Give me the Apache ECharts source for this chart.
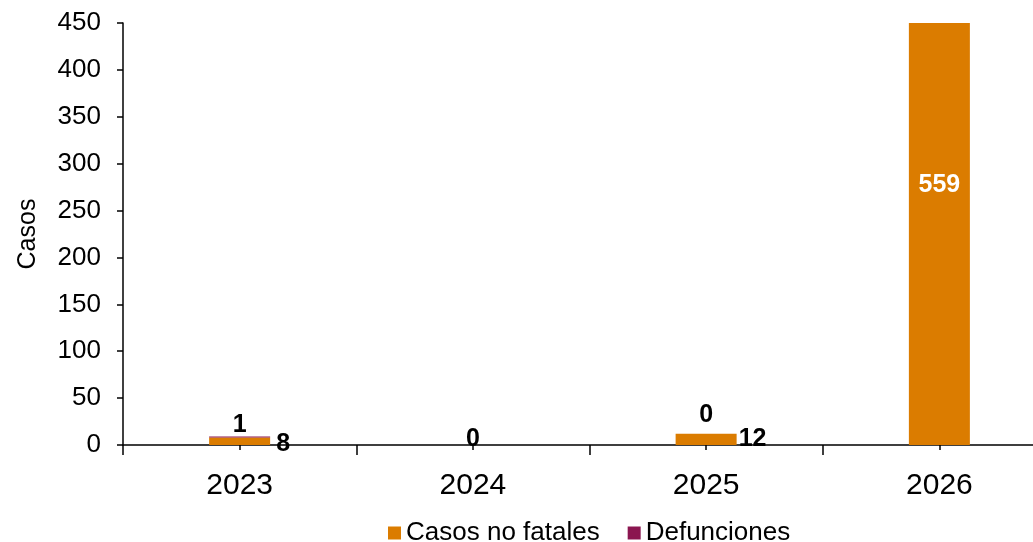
<!DOCTYPE html>
<html>
<head>
<meta charset="utf-8">
<script src="https://cdn.jsdelivr.net/npm/echarts@6/dist/echarts.min.js"></script>
<style>html,body{margin:0;padding:0;background:#fff;overflow:hidden}#c{width:1033px;height:542px}</style>
</head>
<body>
<div id="c"></div>
<script>
const years = ['2023', '2024', '2025', '2026'];
const casosNoFatales = [8, 0, 12, 559];
const defunciones = [1, 0, 0, 0];
const yTicks = { min: 0, max: 450, interval: 50 };

const FONT = 'Liberation Sans, Arial, sans-serif';
const chart = echarts.init(document.getElementById('c'));

const casosData = casosNoFatales.map((v, i) => {
  if (i === 1) return { value: v, label: { show: false } };
  if (v > yTicks.max) {
    return { value: v, label: { show: true, position: 'inside', color: '#fff', offset: [0, -49] } };
  }
  return { value: v, label: { show: true, position: 'right', distance: i === 0 ? 6 : 2, offset: i === 0 ? [0, 3] : [0, 0] } };
});
const defData = defunciones.map((v, i) => {
  if (i === 3) return { value: v, label: { show: false } };
  const dist = [-1, -7, 6, 0][i];
  return { value: v, label: { show: true, position: 'top', distance: dist } };
});

chart.setOption({
  animation: false,
  backgroundColor: '#fff',
  textStyle: { fontFamily: FONT },
  grid: { left: 123, width: 933, top: 23, bottom: 97, containLabel: false, outerBoundsMode: 'none' },
  legend: {
    left: 388, top: 520, padding: 0, itemWidth: 13, itemHeight: 13, itemGap: 28,
    icon: 'rect',
    textStyle: { fontSize: 26, color: '#000', fontFamily: FONT },
    data: ['Casos no fatales', 'Defunciones']
  },
  xAxis: [{
    type: 'category', data: years,
    axisLine: { lineStyle: { color: '#000', width: 1.5 } },
    axisTick: { show: true, length: 10, lineStyle: { color: '#000', width: 1.5 } },
    axisLabel: { fontSize: 30, color: '#000', margin: 26, fontFamily: FONT }
  }, {
    type: 'category', data: years, position: 'bottom',
    axisLine: { show: false },
    axisTick: { show: true, alignWithLabel: true, length: 5, lineStyle: { color: '#000', width: 1.5 } },
    axisLabel: { show: false }
  }],
  yAxis: {
    type: 'value', min: yTicks.min, max: yTicks.max, interval: yTicks.interval,
    name: 'Casos', nameLocation: 'middle', nameGap: 82,
    nameTextStyle: { fontSize: 25, color: '#000', fontFamily: FONT },
    axisLine: { show: true, lineStyle: { color: '#000', width: 1.5 } },
    axisTick: { show: true, length: 6, lineStyle: { color: '#000', width: 1.5 } },
    axisLabel: { fontSize: 26, color: '#000', margin: 22, fontFamily: FONT },
    splitLine: { show: false }
  },
  series: [{
    name: 'Casos no fatales', type: 'bar', stack: 'total', barWidth: 61,
    itemStyle: { color: '#DB7C00' },
    label: { fontSize: 25, fontWeight: 'bold', color: '#000', fontFamily: FONT },
    data: casosData
  }, {
    name: 'Defunciones', type: 'bar', stack: 'total', barWidth: 61,
    itemStyle: { color: '#8B1650' },
    label: { fontSize: 25, fontWeight: 'bold', color: '#000', fontFamily: FONT },
    data: defData
  }]
});
</script>
</body>
</html>
